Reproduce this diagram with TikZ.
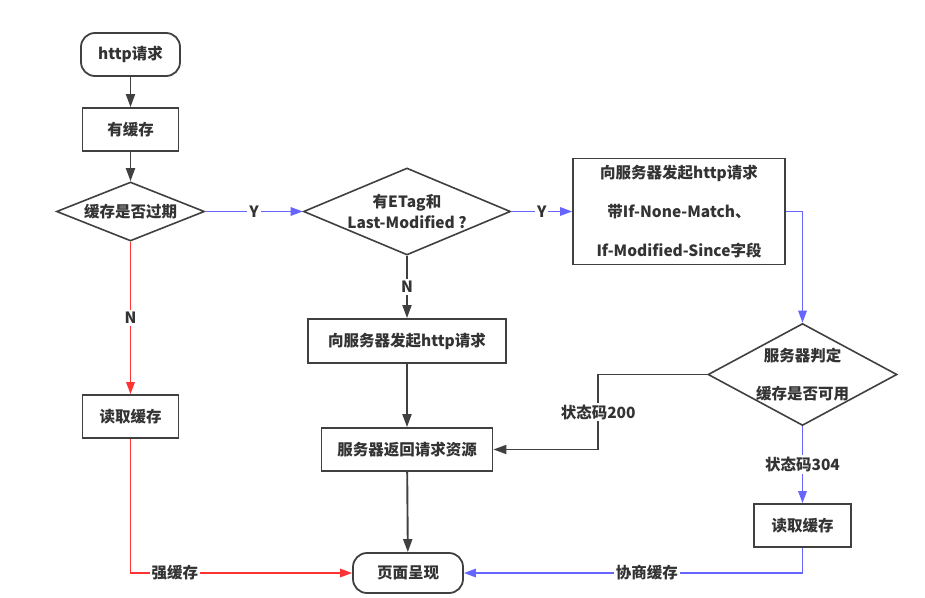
\documentclass[tikz,border=0pt]{standalone}
\usepackage{fontspec}
\setmainfont{Noto Sans CJK SC}
\usetikzlibrary{shapes.geometric,arrows.meta,positioning}
\definecolor{linecolor}{HTML}{404040}
\definecolor{textcolor}{HTML}{333333}
\definecolor{bluecolor}{HTML}{6666FF}
\definecolor{redcolor}{HTML}{FF3333}

\tikzset{
  box/.style={draw=linecolor, line width=1.8pt, rectangle, inner sep=0pt, text=textcolor},
  terminal/.style={box, rounded corners=14pt},
  decision/.style={draw=linecolor, line width=1.6pt, diamond, inner sep=-2pt, text=textcolor, align=center},
  flow/.style={draw=linecolor, line width=1.9pt, -{Triangle[length=13pt,width=9pt]}},
  bflow/.style={draw=bluecolor, line width=1.5pt, -{Triangle[length=12pt,width=8.5pt]}},
  rflow/.style={draw=redcolor, line width=1.5pt, -{Triangle[length=12pt,width=8.5pt]}},
  lbl/.style={fill=white, inner sep=2pt, text=textcolor},
}

\begin{document}
\begin{tikzpicture}[x=1pt, y=-1pt, font=\fontsize{15.5}{19}\selectfont\bfseries]
  \useasboundingbox (0,0) rectangle (925,597);
  % Left column
  \node[terminal, minimum width=99, minimum height=43] (req) at (130.5,54.5) {http请求};
  \node[box, minimum width=96, minimum height=43] (hascache) at (130.5,129.5) {有缓存};
  \node[decision, minimum width=148, minimum height=59, aspect=2.5] (expired) at (130.5,211.5) {缓存是否过期};
  \node[box, minimum width=96, minimum height=43] (readleft) at (130.5,416.5) {读取缓存};
  % Middle column
  \node[decision, minimum width=207, minimum height=87, aspect=2.4,
        font=\fontsize{15.5}{21}\selectfont\bfseries] (etag) at (407,211.5) {有ETag和\\Last-Modified ?};
  \node[box, minimum width=198, minimum height=44] (send) at (407,341) {向服务器发起http请求};
  \node[box, minimum width=171, minimum height=43] (back) at (407,449.5) {服务器返回请求资源};
  \node[terminal, minimum width=110, minimum height=40] (page) at (408,573) {页面呈现};
  % Right column
  \node[box, minimum width=212, minimum height=106, align=center,
        font=\fontsize{15.5}{39}\selectfont\bfseries] (cond) at (679,211.5)
        {向服务器发起http请求\\带If-None-Match、\\If-Modified-Since字段};
  \node[decision, minimum width=189, minimum height=102, aspect=1.85,
        font=\fontsize{15.5}{38}\selectfont\bfseries] (judge) at (802.5,374.5) {服务器判定\\缓存是否可用};
  \node[box, minimum width=97, minimum height=43] (readright) at (802.5,525.5) {读取缓存};
  % Connectors
  \draw[flow] (req) -- (hascache);
  \draw[flow] (hascache) -- (expired);
  \draw[bflow] (expired) -- node[lbl]{Y} (etag);
  \draw[rflow] (expired) -- node[lbl]{N} (readleft);
  \draw[bflow] (etag) -- node[lbl]{Y} (cond);
  \draw[flow] (etag) -- node[lbl]{N} (send);
  \draw[flow] (send) -- (back);
  \draw[flow] (back) -- (page);
  \draw[rflow] (readleft) |- node[lbl, pos=0.6]{强缓存} (page);
  \draw[bflow] (cond) -| (judge);
  \draw[flow] (judge.west) -- ++(-109,0) |- node[lbl, pos=0.25]{状态码200} (back.east);
  \draw[bflow] (judge) -- node[lbl]{状态码304} (readright);
  \draw[bflow] (readright) |- node[lbl, pos=0.73]{协商缓存} (page);
\end{tikzpicture}
\end{document}
